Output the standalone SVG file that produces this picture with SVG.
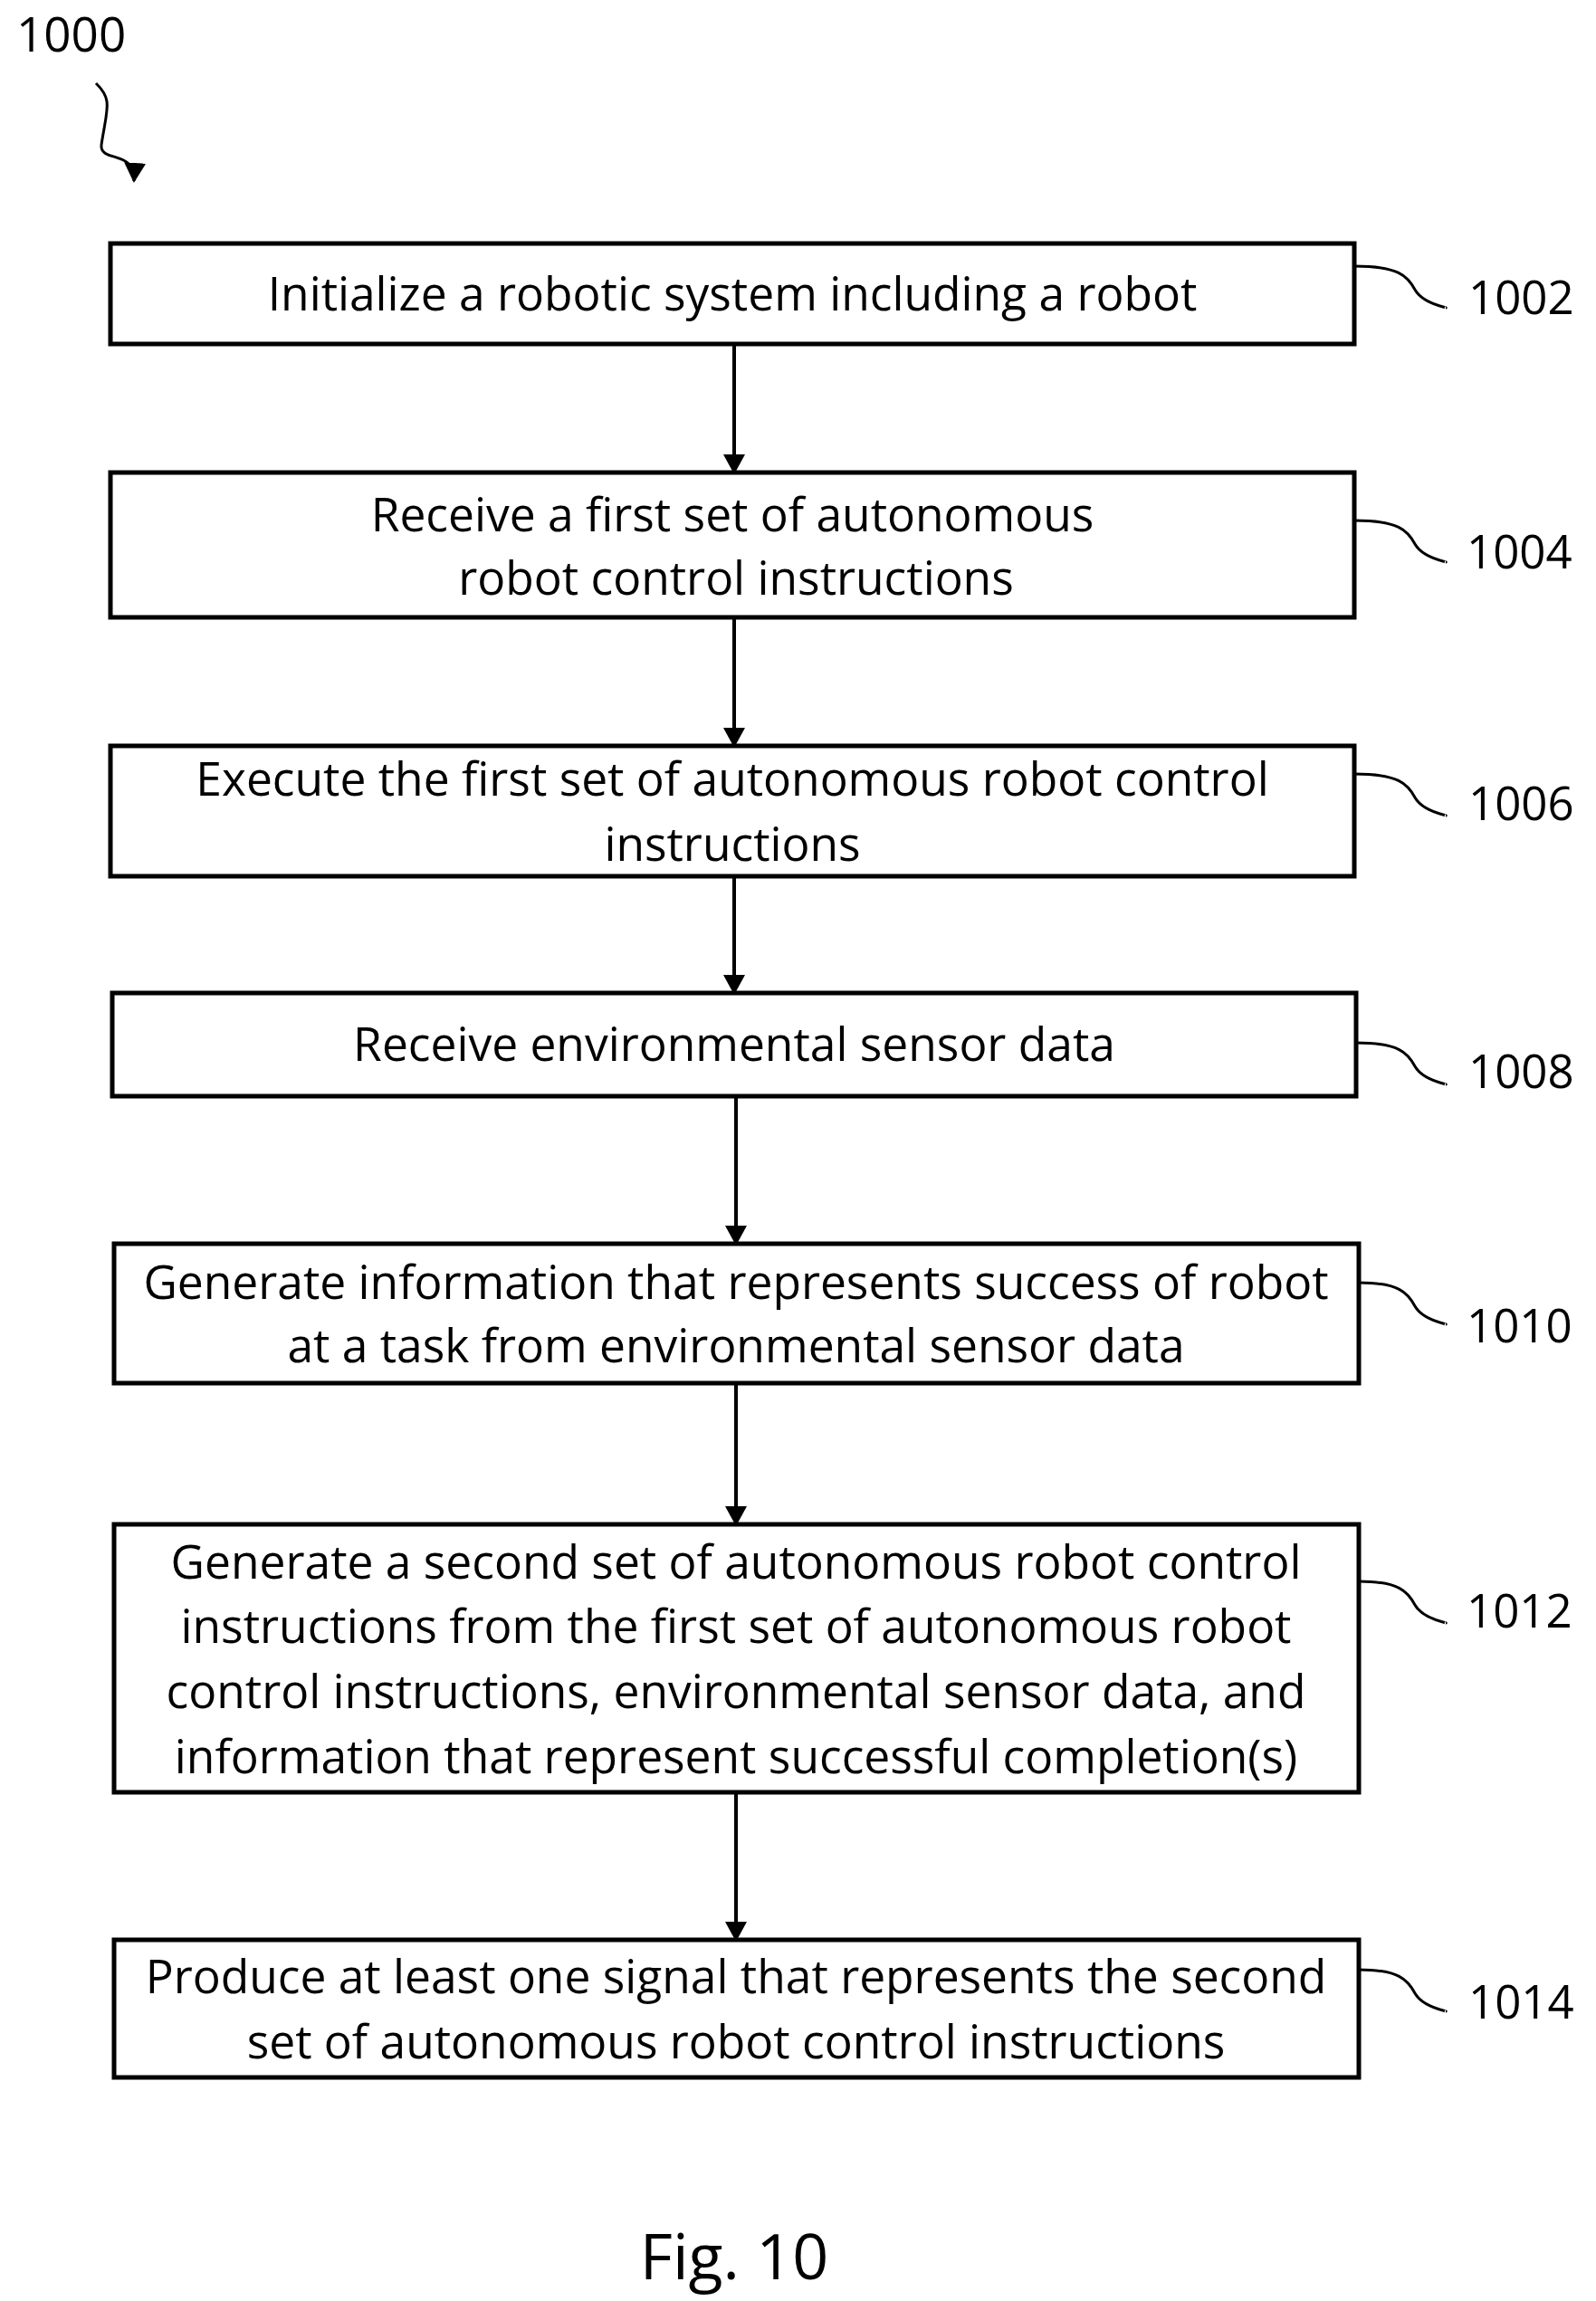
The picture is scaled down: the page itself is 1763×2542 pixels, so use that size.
<svg xmlns="http://www.w3.org/2000/svg" width="1763" height="2542" viewBox="0 0 1763 2542">
<style>
.b{fill:#fff;stroke:#000;stroke-width:5}
.t{font-family:"Open Sans","Liberation Sans",sans-serif;font-size:51.5px;text-anchor:middle;fill:#000}
.n{font-family:"Open Sans","Liberation Sans",sans-serif;font-size:51px;fill:#000}
.l{fill:none;stroke:#000;stroke-width:3}
.c{stroke:#000;stroke-width:4}
</style>
<defs>
<marker id="a2" markerWidth="22" markerHeight="24" refX="20" refY="12" orient="auto" markerUnits="userSpaceOnUse"><path d="M0,0L22,12L0,24z"/></marker></defs>
<text class="n" x="18" y="57" style="font-size:53px">1000</text>
<path class="l" d="M106,92C125,110 118,120 112,160C110,180 150,165 148,200" marker-end="url(#a2)"/>
<g id="connectors">
<line class="c" x1="811" y1="382" x2="811" y2="522" marker-end="url(#a2)"/>
<line class="c" x1="811" y1="684" x2="811" y2="824" marker-end="url(#a2)"/>
<line class="c" x1="811" y1="970" x2="811" y2="1097" marker-end="url(#a2)"/>
<line class="c" x1="813" y1="1213" x2="813" y2="1374" marker-end="url(#a2)"/>
<line class="c" x1="813" y1="1530" x2="813" y2="1684" marker-end="url(#a2)"/>
<line class="c" x1="813" y1="1982" x2="813" y2="2143" marker-end="url(#a2)"/>
</g>
<g id="n1002"><rect class="b" x="122" y="269" width="1374" height="111"/><text class="t" x="809" y="343">Initialize a robotic system including a robot</text><path class="l" d="M1496,294C1545,294 1555,305 1563,320C1572,336 1600,340 1597,340"/><text class="n" x="1622" y="347">1002</text></g>
<g id="n1004"><rect class="b" x="122" y="522" width="1374" height="160"/><text class="t" x="809" y="587">Receive a first set of autonomous</text><text class="t" x="813" y="657">robot control instructions</text><path class="l" d="M1496,575C1545,575 1555,586 1563,601C1572,617 1600,621 1597,621"/><text class="n" x="1620" y="628">1004</text></g>
<g id="n1006"><rect class="b" x="122" y="824" width="1374" height="144"/><text class="t" x="809" y="879">Execute the first set of autonomous robot control</text><text class="t" x="809" y="951">instructions</text><path class="l" d="M1496,855C1545,855 1555,866 1563,881C1572,897 1600,901 1597,901"/><text class="n" x="1622" y="906">1006</text></g>
<g id="n1008"><rect class="b" x="124" y="1097" width="1374" height="114"/><text class="t" x="811" y="1172">Receive environmental sensor data</text><path class="l" d="M1498,1152C1545,1152 1555,1163 1563,1178C1572,1194 1600,1198 1597,1198"/><text class="n" x="1622" y="1202">1008</text></g>
<g id="n1010"><rect class="b" x="126" y="1374" width="1375" height="154"/><text class="t" x="813" y="1435">Generate information that represents success of robot</text><text class="t" x="813" y="1505">at a task from environmental sensor data</text><path class="l" d="M1501,1417C1545,1417 1555,1428 1563,1443C1572,1459 1600,1463 1597,1463"/><text class="n" x="1620" y="1483">1010</text></g>
<g id="n1012"><rect class="b" x="126" y="1684" width="1375" height="296"/><text class="t" x="813" y="1744">Generate a second set of autonomous robot control</text><text class="t" x="813" y="1815">instructions from the first set of autonomous robot</text><text class="t" x="813" y="1887">control instructions, environmental sensor data, and</text><text class="t" x="813" y="1959">information that represent successful completion(s)</text><path class="l" d="M1501,1747C1545,1747 1555,1758 1563,1773C1572,1789 1600,1793 1597,1793"/><text class="n" x="1620" y="1798">1012</text></g>
<g id="n1014"><rect class="b" x="126" y="2143" width="1375" height="152"/><text class="t" x="813" y="2202">Produce at least one signal that represents the second</text><text class="t" x="813" y="2274">set of autonomous robot control instructions</text><path class="l" d="M1501,2176C1545,2176 1555,2187 1563,2202C1572,2218 1600,2222 1597,2222"/><text class="n" x="1622" y="2230">1014</text></g>
<text class="t" x="811" y="2518" style="font-size:70px">Fig. 10</text>
</svg>
